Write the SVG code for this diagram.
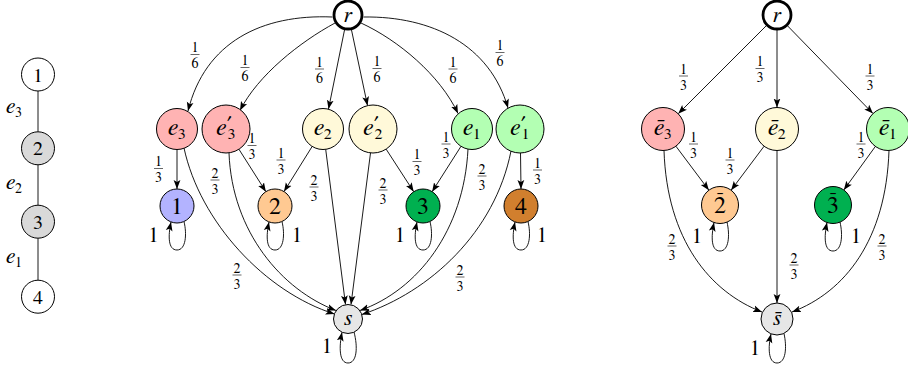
<svg xmlns="http://www.w3.org/2000/svg" width="908" height="368" viewBox="0 0 908 368">
<style>
text{font-family:"FreeSerif","Nimbus Roman","Noto Serif","DejaVu Serif",serif;fill:#000}
.i{font-style:italic}
.n{stroke:#000;stroke-width:1}
.e{fill:none;stroke:#000;stroke-width:0.9;marker-end:url(#ah)}
.l{fill:none;stroke:#000;stroke-width:0.9}
.fr text{font-size:14px;text-anchor:middle}
.fr line{stroke:#000;stroke-width:0.6}
.lb{font-size:21px;text-anchor:middle}
.nl{text-anchor:middle}
</style>
<defs>
<marker id="ah" markerUnits="userSpaceOnUse" markerWidth="10" markerHeight="8" refX="9" refY="4" orient="auto">
<path d="M0,0.6 L9,4 L0,7.4 L2,4 z" fill="#000"/>
</marker>
</defs>

<!-- left tree -->
<g id="tree-edges">
<line class="l" x1="38" y1="91" x2="38" y2="131.8"/>
<line class="l" x1="38" y1="164.8" x2="38" y2="205.2"/>
<line class="l" x1="38" y1="238.2" x2="38" y2="280.2"/>
</g>
<g id="t1"><circle class="n" cx="38" cy="74.5" r="16.5" fill="#fff"/><text class="nl" x="38" y="81.5" font-size="20">1</text></g>
<g id="t2"><circle class="n" cx="38" cy="148.3" r="16.5" fill="#D9D9D9"/><text class="nl" x="38" y="155.3" font-size="20">2</text></g>
<g id="t3"><circle class="n" cx="38" cy="221.7" r="16.5" fill="#D9D9D9"/><text class="nl" x="38" y="228.7" font-size="20">3</text></g>
<g id="t4"><circle class="n" cx="38" cy="296.7" r="16.5" fill="#fff"/><text class="nl" x="38" y="303.7" font-size="20">4</text></g>
<g id="tree-labels">
<text x="6" y="113"><tspan class="i" font-size="22">e</tspan><tspan font-size="14" dy="4">3</tspan></text>
<text x="6" y="189"><tspan class="i" font-size="22">e</tspan><tspan font-size="14" dy="4">2</tspan></text>
<text x="6" y="263"><tspan class="i" font-size="22">e</tspan><tspan font-size="14" dy="4">1</tspan></text>
</g>

<!-- middle graph connectors -->
<g id="mid-edges">
<path class="e" d="M332.5 17 C262 14 205 42 188 111"/>
<path class="e" d="M335 23 C300 42 258 75 240 110.5"/>
<path class="e" d="M344.5 30 L328.5 109"/>
<path class="e" d="M351.5 30 L367.5 105.5"/>
<path class="e" d="M361 23 C398 40 440 75 458 113.5"/>
<path class="e" d="M363.5 17 C432 16 490 45 508 108"/>

<path class="e" d="M177 149.5 L177 189"/>
<path class="e" d="M184 148 C200 222 265 292 334.5 314"/>
<path class="e" d="M238.9 149.2 L265.9 191.7"/>
<path class="e" d="M229 153 C232 232 282 290 336 310.5"/>
<path class="e" d="M312.2 146.4 L284 191.6"/>
<path class="e" d="M325.7 149.3 L345.5 304.5"/>
<path class="e" d="M370.5 153 L351 304.5"/>
<path class="e" d="M386.1 149.1 L413.7 191.7"/>
<path class="e" d="M461 146.3 L432.1 191.7"/>
<path class="e" d="M468 149 C464 230 418 290 360 310.5"/>
<path class="e" d="M520.5 153 L521 189"/>
<path class="e" d="M511 151 C495 232 430 292 361.8 314.5"/>

<path class="e" transform="translate(177,206)" d="M7 15.5 C10 28 9 44 0 44 C-9 44 -9 30 -6 16"/>
<path class="e" transform="translate(275,206)" d="M7 15.5 C10 28 9 44 0 44 C-9 44 -9 30 -6 16"/>
<path class="e" transform="translate(423,206)" d="M7 15.5 C10 28 9 44 0 44 C-9 44 -9 30 -6 16"/>
<path class="e" transform="translate(521,206)" d="M7 15.5 C10 28 9 44 0 44 C-9 44 -9 30 -6 16"/>
<path class="e" transform="translate(348,319)" d="M6 13 C10 28 9 44 0 44 C-9 44 -9 28 -6 13.2"/>
</g>

<g id="mid-labels">
<g class="fr" transform="translate(195,54.5)"><text y="-2.5">1</text><line x1="-4.5" x2="4.5"/><text y="13.5">6</text></g>
<g class="fr" transform="translate(245,67.5)"><text y="-2.5">1</text><line x1="-4.5" x2="4.5"/><text y="13.5">6</text></g>
<g class="fr" transform="translate(319.5,69)"><text y="-2.5">1</text><line x1="-4.5" x2="4.5"/><text y="13.5">6</text></g>
<g class="fr" transform="translate(377,68.5)"><text y="-2.5">1</text><line x1="-4.5" x2="4.5"/><text y="13.5">6</text></g>
<g class="fr" transform="translate(453,69)"><text y="-2.5">1</text><line x1="-4.5" x2="4.5"/><text y="13.5">6</text></g>
<g class="fr" transform="translate(500,52.5)"><text y="-2.5">1</text><line x1="-4.5" x2="4.5"/><text y="13.5">6</text></g>

<g class="fr" transform="translate(158.5,168.5)"><text y="-2.5">1</text><line x1="-4.5" x2="4.5"/><text y="13.5">3</text></g>
<g class="fr" transform="translate(252,145.5)"><text y="-2.5">1</text><line x1="-4.5" x2="4.5"/><text y="13.5">3</text></g>
<g class="fr" transform="translate(215,180)"><text y="-2.5">2</text><line x1="-4.5" x2="4.5"/><text y="13.5">3</text></g>
<g class="fr" transform="translate(281,160)"><text y="-2.5">1</text><line x1="-4.5" x2="4.5"/><text y="13.5">3</text></g>
<g class="fr" transform="translate(314,187)"><text y="-2.5">2</text><line x1="-4.5" x2="4.5"/><text y="13.5">3</text></g>
<g class="fr" transform="translate(383,190)"><text y="-2.5">2</text><line x1="-4.5" x2="4.5"/><text y="13.5">3</text></g>
<g class="fr" transform="translate(417,161.5)"><text y="-2.5">1</text><line x1="-4.5" x2="4.5"/><text y="13.5">3</text></g>
<g class="fr" transform="translate(446,144)"><text y="-2.5">1</text><line x1="-4.5" x2="4.5"/><text y="13.5">3</text></g>
<g class="fr" transform="translate(482,176)"><text y="-2.5">2</text><line x1="-4.5" x2="4.5"/><text y="13.5">3</text></g>
<g class="fr" transform="translate(537.5,170)"><text y="-2.5">1</text><line x1="-4.5" x2="4.5"/><text y="13.5">3</text></g>
<g class="fr" transform="translate(237,275)"><text y="-2.5">2</text><line x1="-4.5" x2="4.5"/><text y="13.5">3</text></g>
<g class="fr" transform="translate(460,277)"><text y="-2.5">2</text><line x1="-4.5" x2="4.5"/><text y="13.5">3</text></g>

<text class="lb" x="153.5" y="242">1</text>
<text class="lb" x="297" y="242">1</text>
<text class="lb" x="400" y="242">1</text>
<text class="lb" x="542" y="242">1</text>
<text class="lb" x="327" y="353">1</text>
</g>

<!-- middle nodes -->
<g id="r"><circle cx="348" cy="15" r="14" fill="#fff" stroke="#000" stroke-width="2.8"/><text class="nl i" x="348" y="21.5" font-size="22">r</text></g>
<g id="e3"><circle class="n" cx="177" cy="129" r="20.5" fill="#FFB3B3"/><text class="nl" x="177" y="134.5"><tspan class="i" font-size="24">e</tspan><tspan font-size="16" dy="4">3</tspan></text></g>
<g id="e3p"><circle class="n" cx="226" cy="129" r="24" fill="#FFB3B3"/><text class="nl" x="226" y="134.5"><tspan class="i" font-size="24">e</tspan><tspan font-size="18" dx="1" dy="-7">′</tspan><tspan font-size="16" dx="-4" dy="11">3</tspan></text></g>
<g id="e2"><circle class="n" cx="323" cy="129" r="20.5" fill="#FFF9D9"/><text class="nl" x="323" y="134.5"><tspan class="i" font-size="24">e</tspan><tspan font-size="16" dy="4">2</tspan></text></g>
<g id="e2p"><circle class="n" cx="373" cy="129" r="24" fill="#FFF9D9"/><text class="nl" x="373" y="134.5"><tspan class="i" font-size="24">e</tspan><tspan font-size="18" dx="1" dy="-7">′</tspan><tspan font-size="16" dx="-4" dy="11">2</tspan></text></g>
<g id="e1"><circle class="n" cx="472" cy="129" r="20.5" fill="#B3FFB3"/><text class="nl" x="472" y="134.5"><tspan class="i" font-size="24">e</tspan><tspan font-size="16" dy="4">1</tspan></text></g>
<g id="e1p"><circle class="n" cx="520" cy="129" r="24" fill="#B3FFB3"/><text class="nl" x="520" y="134.5"><tspan class="i" font-size="24">e</tspan><tspan font-size="18" dx="1" dy="-7">′</tspan><tspan font-size="16" dx="-4" dy="11">1</tspan></text></g>
<g id="n1"><circle class="n" cx="177" cy="206" r="17" fill="#B3B3FF"/><text class="nl" x="177" y="214" font-size="24">1</text></g>
<g id="n2"><circle class="n" cx="275" cy="206" r="17" fill="#FFC992"/><text class="nl" x="275" y="214" font-size="24">2</text></g>
<g id="n3"><circle class="n" cx="423" cy="206" r="17" fill="#00B050"/><text class="nl" x="423" y="214" font-size="24">3</text></g>
<g id="n4"><circle class="n" cx="521" cy="206" r="17" fill="#D17F2E"/><text class="nl" x="521" y="214" font-size="24">4</text></g>
<g id="s"><circle class="n" cx="348" cy="319" r="14.5" fill="#E6E6E6"/><text class="nl i" x="348" y="325" font-size="22">s</text></g>

<!-- right graph connectors -->
<g id="right-edges">
<path class="e" d="M766.4 25.6 L678.2 113.8"/>
<path class="e" d="M777 30 L777 107.5"/>
<path class="e" d="M787.5 25.8 L873 113.6"/>
<path class="e" d="M675.9 146.2 L708.9 190.2"/>
<path class="e" d="M764.1 146.2 L731.1 190.2"/>
<path class="e" d="M777 150.5 L777 303"/>
<path class="e" d="M875.4 146.4 L843.8 190"/>
<path class="e" d="M664 150.5 C667 240 710 292 762 312"/>
<path class="e" d="M889 150.5 C886 240 845 292 792 312"/>
<path class="e" transform="translate(720,205)" d="M7 17 C10 30 9 46 0 46 C-9 46 -9 32 -6 17.5"/>
<path class="e" transform="translate(833,205)" d="M7 17 C10 30 9 46 0 46 C-9 46 -9 32 -6 17.5"/>
<path class="e" transform="translate(777,319)" d="M7 14.5 C10 28 9 44 0 44 C-9 44 -9 28 -6 15"/>
</g>
<g id="right-labels">
<g class="fr" transform="translate(683.5,76)"><text y="-2.5">1</text><line x1="-4.5" x2="4.5"/><text y="13.5">3</text></g>
<g class="fr" transform="translate(760,68.5)"><text y="-2.5">1</text><line x1="-4.5" x2="4.5"/><text y="13.5">3</text></g>
<g class="fr" transform="translate(870,76)"><text y="-2.5">1</text><line x1="-4.5" x2="4.5"/><text y="13.5">3</text></g>
<g class="fr" transform="translate(693.5,144)"><text y="-2.5">1</text><line x1="-4.5" x2="4.5"/><text y="13.5">3</text></g>
<g class="fr" transform="translate(730,160)"><text y="-2.5">1</text><line x1="-4.5" x2="4.5"/><text y="13.5">3</text></g>
<g class="fr" transform="translate(861,144)"><text y="-2.5">1</text><line x1="-4.5" x2="4.5"/><text y="13.5">3</text></g>
<g class="fr" transform="translate(672,246)"><text y="-2.5">2</text><line x1="-4.5" x2="4.5"/><text y="13.5">3</text></g>
<g class="fr" transform="translate(794,265)"><text y="-2.5">2</text><line x1="-4.5" x2="4.5"/><text y="13.5">3</text></g>
<g class="fr" transform="translate(882,246)"><text y="-2.5">2</text><line x1="-4.5" x2="4.5"/><text y="13.5">3</text></g>
<text class="lb" x="697" y="243">1</text>
<text class="lb" x="856" y="243">1</text>
<text class="lb" x="755" y="355">1</text>
</g>

<!-- right nodes -->
<g id="rb"><circle cx="777" cy="15" r="14" fill="#fff" stroke="#000" stroke-width="2.8"/><text class="nl i" x="777" y="21.5" font-size="22">r</text></g>
<g id="eb3"><circle class="n" cx="663" cy="129" r="21.5" fill="#FFB3B3"/><text class="nl" x="663" y="134.5"><tspan class="i" font-size="24">ē</tspan><tspan font-size="16" dy="4">3</tspan></text></g>
<g id="eb2"><circle class="n" cx="777" cy="129" r="21.5" fill="#FFF9D9"/><text class="nl" x="777" y="134.5"><tspan class="i" font-size="24">ē</tspan><tspan font-size="16" dy="4">2</tspan></text></g>
<g id="eb1"><circle class="n" cx="888" cy="129" r="21.5" fill="#B3FFB3"/><text class="nl" x="888" y="134.5"><tspan class="i" font-size="24">ē</tspan><tspan font-size="16" dy="4">1</tspan></text></g>
<g id="nb2"><circle class="n" cx="720" cy="205" r="18.5" fill="#FFC992"/><text class="nl" x="720" y="213" font-size="24">2<tspan x="720" dy="-8" font-size="20">¯</tspan></text></g>
<g id="nb3"><circle class="n" cx="833" cy="205" r="18.5" fill="#00B050"/><text class="nl" x="833" y="213" font-size="24">3<tspan x="833" dy="-8" font-size="20">¯</tspan></text></g>
<g id="sb"><circle class="n" cx="777" cy="319" r="16" fill="#E6E6E6"/><text class="nl i" x="777" y="325" font-size="22">s&#x0304;</text></g>
</svg>
